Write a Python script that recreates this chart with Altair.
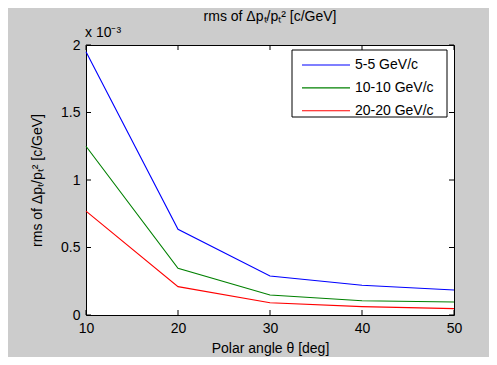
import altair as alt
import pandas as pd

angles = [10, 20, 30, 40, 50]
series_names = ["5-5 GeV/c", "10-10 GeV/c", "20-20 GeV/c"]
rms_5 = [1.95, 0.635, 0.289, 0.22, 0.185]      # x 10^-3
rms_10 = [1.25, 0.346, 0.148, 0.106, 0.096]
rms_20 = [0.77, 0.21, 0.091, 0.062, 0.047]
colors = ["#0000ff", "#008000", "#ff0000"]
x_ticks = [10, 20, 30, 40, 50]
y_ticks = [0, 0.5, 1, 1.5, 2]

rows = []
for name, vals in zip(series_names, [rms_5, rms_10, rms_20]):
    for a, v in zip(angles, vals):
        rows.append({"angle": a, "rms": v, "series": name})
df = pd.DataFrame(rows)
xt = pd.DataFrame({"t": x_ticks})
yt = pd.DataFrame({"t": y_ticks})
leg = pd.DataFrame({"series": series_names})

W, H = 368, 270
FONT = "Liberation Sans"
FS = 14

xs = alt.Scale(domain=[10, 50], nice=False)
ys = alt.Scale(domain=[0, 2], nice=False)
cs = alt.Scale(domain=series_names, range=colors)

lines = alt.Chart(df).mark_line(strokeWidth=1.1).encode(
    x=alt.X("angle:Q", scale=xs,
            axis=alt.Axis(values=x_ticks, title="Polar angle θ [deg]", tickSize=0,
                          domain=False, grid=False, labelPadding=6, titlePadding=6,
                          labelFontSize=FS, titleFontSize=FS, labelFont=FONT, titleFont=FONT,
                          labelColor="black", titleColor="black", titleFontWeight="normal",
                          labelFlush=False)),
    y=alt.Y("rms:Q", scale=ys,
            axis=alt.Axis(values=y_ticks, format="~g", title="rms of Δpₜ/pₜ² [c/GeV]",
                          tickSize=0, domain=False, grid=False, labelPadding=6, titlePadding=16,
                          labelFontSize=FS, titleFontSize=FS, labelFont=FONT, titleFont=FONT,
                          labelColor="black", titleColor="black", titleFontWeight="normal",
                          labelFlush=False)),
    color=alt.Color("series:N", sort=series_names, scale=cs, legend=None),
)

tick_len = 5
bottom = alt.Chart(xt).mark_rule(color="black").encode(
    x=alt.X("t:Q", scale=xs), y=alt.value(H), y2=alt.value(H - tick_len))
top = alt.Chart(xt).mark_rule(color="black").encode(
    x=alt.X("t:Q", scale=xs), y=alt.value(0), y2=alt.value(tick_len))
left = alt.Chart(yt).mark_rule(color="black").encode(
    y=alt.Y("t:Q", scale=ys, axis=None), x=alt.value(0), x2=alt.value(tick_len))
right = alt.Chart(yt).mark_rule(color="black").encode(
    y=alt.Y("t:Q", scale=ys, axis=None), x=alt.value(W), x2=alt.value(W - tick_len))

# legend (drawn in plot-area pixel space)
box = alt.Chart(pd.DataFrame({"b": [0]})).mark_rect(
    fill="white", stroke="black", strokeWidth=1
).encode(x=alt.value(206), x2=alt.value(361), y=alt.value(5), y2=alt.value(72))
ls = alt.Scale(type="point", domain=series_names, range=[20, 65.7], padding=0)
leg_lines = alt.Chart(leg).mark_rule(strokeWidth=1.1).encode(
    y=alt.Y("series:N", scale=ls, axis=None),
    x=alt.value(216), x2=alt.value(264),
    color=alt.Color("series:N", scale=cs, legend=None),
)
leg_text = alt.Chart(leg).mark_text(
    font=FONT, fontSize=FS, color="black", align="left", baseline="middle"
).encode(y=alt.Y("series:N", scale=ls, axis=None), x=alt.value(269), text="series:N")

mult = alt.Chart(pd.DataFrame({"s": ["x 10⁻³"]})).mark_text(
    font=FONT, fontSize=FS, color="black", align="left", baseline="alphabetic"
).encode(text="s:N", x=alt.value(-1), y=alt.value(-8))

chart = alt.layer(lines, bottom, top, left, right, box, leg_lines, leg_text, mult).resolve_scale(
    y="independent"
).properties(
    width=W, height=H,
    title=alt.Title("rms of Δpₜ/pₜ² [c/GeV]", font=FONT, fontSize=FS, fontWeight="normal",
                    color="black", offset=2),
    background="#cccccc",
    padding={"left": 78, "top": 37, "right": 35, "bottom": 42},
    autosize=alt.AutoSizeParams(type="none"),
).configure_view(stroke="black", strokeWidth=1, fill="white")

chart.save("out.html", embed_options={"renderer": "svg", "actions": False})
